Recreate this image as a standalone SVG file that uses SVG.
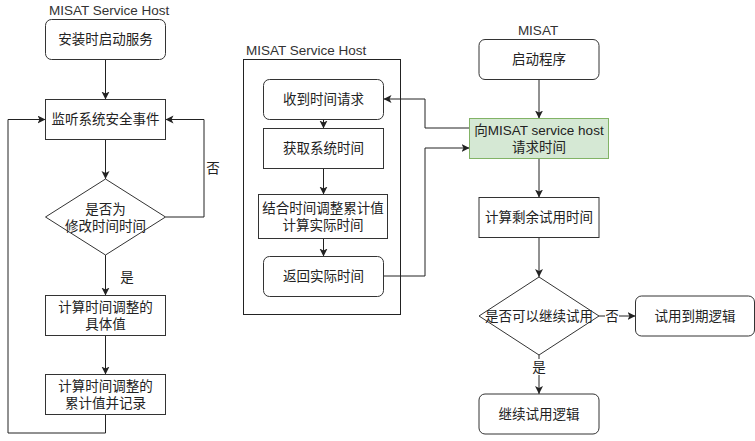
<svg xmlns="http://www.w3.org/2000/svg" width="755" height="441" viewBox="0 0 755 441">
<defs>
<style>
.n{fill:#fff;stroke:#333;stroke-width:1}
.g{fill:#d5e8d4;stroke:#82b366;stroke-width:1}
.c{fill:none;stroke:#222;stroke-width:1}
.t{font-family:"Liberation Sans","Noto Sans CJK SC",sans-serif;font-size:13.5px;fill:#222;text-anchor:middle;dominant-baseline:central}
.ts{font-family:"Liberation Sans","Noto Sans CJK SC",sans-serif;font-size:13.5px;fill:#333;dominant-baseline:central}
.lb{fill:#fff;stroke:none}
</style>
<marker id="a" markerUnits="userSpaceOnUse" markerWidth="10" markerHeight="10" refX="8" refY="4" orient="auto">
<path d="M0,0 L8,4 L0,8 L2,4 z" fill="#222"/>
</marker>
</defs>

<text class="ts" x="49" y="10">MISAT Service Host</text>
<text class="ts" x="246" y="50">MISAT Service Host</text>
<text class="ts" x="538" y="30" text-anchor="middle">MISAT</text>

<rect id="container" x="243.5" y="59.5" width="157" height="255" fill="none" stroke="#222"/>

<g id="connectors">
<path class="c" d="M105.5,59.5 V99.5" marker-end="url(#a)"/>
<path class="c" d="M105.5,139.5 V179" marker-end="url(#a)"/>
<path class="c" d="M165.5,217 H204 V119.5 H165.5" marker-end="url(#a)"/>
<path class="c" d="M105.5,255 V295.5" marker-end="url(#a)"/>
<path class="c" d="M105.5,335.5 V374.5" marker-end="url(#a)"/>
<path class="c" d="M105.5,414.5 V433 H8 V119.5 H45.5" marker-end="url(#a)"/>
<path class="c" d="M323.5,119.5 V128.5" marker-end="url(#a)"/>
<path class="c" d="M323.5,168.5 V194.5" marker-end="url(#a)"/>
<path class="c" d="M323.5,238.5 V256.5" marker-end="url(#a)"/>
<path class="c" d="M469.5,128 H425 V99 H383.5" marker-end="url(#a)"/>
<path class="c" d="M383.5,276 H425 V148 H469.5" marker-end="url(#a)"/>
<path class="c" d="M539,79.5 V118.5" marker-end="url(#a)"/>
<path class="c" d="M539,158.5 V197.5" marker-end="url(#a)"/>
<path class="c" d="M539,237.5 V277" marker-end="url(#a)"/>
<path class="c" d="M599,316 H635.5" marker-end="url(#a)"/>
<path class="c" d="M539,355 V394" marker-end="url(#a)"/>
<text class="t" x="213" y="168">否</text>
<text class="t" x="127" y="277">是</text>
<rect class="lb" x="605" y="308" width="14" height="16"/>
<text class="t" x="612" y="316">否</text>
<rect class="lb" x="532" y="359" width="14" height="16"/>
<text class="t" x="539" y="367">是</text>
</g>

<g id="n1"><rect class="n" x="45.5" y="19.5" width="120" height="40" rx="6"/><text class="t" x="105.5" y="39.5">安装时启动服务</text></g>
<g id="n2"><rect class="n" x="45.5" y="99.5" width="120" height="40"/><text class="t" x="105.5" y="119.5">监听系统安全事件</text></g>
<g id="n3"><path class="n" d="M105.5,179 L165.5,217 L105.5,255 L45.5,217 Z"/><text class="t" x="105.5" y="209">是否为</text><text class="t" x="105.5" y="226">修改时间时间</text></g>
<g id="n4"><rect class="n" x="45.5" y="295.5" width="120" height="40"/><text class="t" x="105.5" y="307.5">计算时间调整的</text><text class="t" x="105.5" y="324.5">具体值</text></g>
<g id="n5"><rect class="n" x="45.5" y="374.5" width="120" height="40"/><text class="t" x="105.5" y="386.5">计算时间调整的</text><text class="t" x="105.5" y="403.5">累计值并记录</text></g>

<g id="m1"><rect class="n" x="263.5" y="79.5" width="120" height="40" rx="6"/><text class="t" x="323.5" y="99.5">收到时间请求</text></g>
<g id="m2"><rect class="n" x="263.5" y="128.5" width="120" height="40"/><text class="t" x="323.5" y="148.5">获取系统时间</text></g>
<g id="m3"><rect class="n" x="258.5" y="194.5" width="129" height="44"/><text class="t" x="323" y="208">结合时间调整累计值</text><text class="t" x="323" y="225">计算实际时间</text></g>
<g id="m4"><rect class="n" x="263.5" y="256.5" width="120" height="40" rx="6"/><text class="t" x="323.5" y="276.5">返回实际时间</text></g>

<g id="r1"><rect class="n" x="479" y="39.5" width="120" height="40" rx="6"/><text class="t" x="539" y="59.5">启动程序</text></g>
<g id="r2"><rect class="g" x="469.5" y="118.5" width="139" height="40"/><text class="t" x="539" y="130">向MISAT service host</text><text class="t" x="539" y="147">请求时间</text></g>
<g id="r3"><rect class="n" x="479" y="197.5" width="120" height="40"/><text class="t" x="539" y="217.5">计算剩余试用时间</text></g>
<g id="r4"><path class="n" d="M539,277 L599,316 L539,355 L479,316 Z"/><text class="t" x="539" y="316">是否可以继续试用</text></g>
<g id="r5"><rect class="n" x="635.5" y="296" width="119" height="40" rx="6"/><text class="t" x="695" y="316">试用到期逻辑</text></g>
<g id="r6"><rect class="n" x="479" y="394" width="120" height="40" rx="6"/><text class="t" x="539" y="414">继续试用逻辑</text></g>
</svg>
